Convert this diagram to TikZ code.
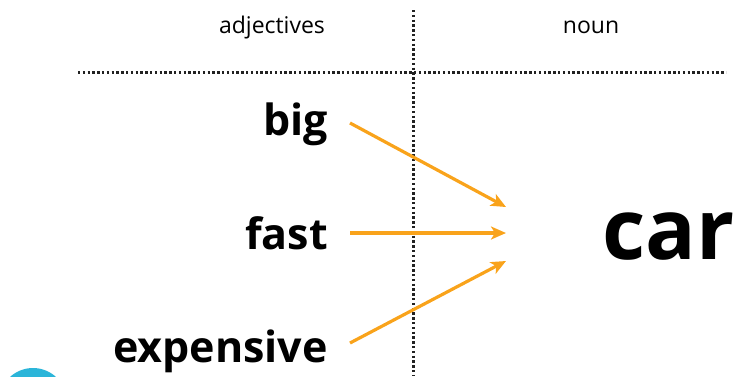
\documentclass[tikz,border=0pt]{standalone}
\usepackage{fontspec}
\setmainfont{Open Sans}
\usetikzlibrary{arrows.meta}
\definecolor{arrorange}{HTML}{F9A31B}
\definecolor{dotgray}{HTML}{222222}
\definecolor{cyanball}{HTML}{2BB5D9}
\begin{document}
\begin{tikzpicture}[x=1pt,y=-1pt,
  header/.style={font=\fontsize{23}{26}\selectfont, text=black, inner sep=0pt, anchor=base},
  word/.style={font=\fontsize{43}{48}\selectfont\bfseries, text=black, inner sep=0pt, anchor=base east},
  bigword/.style={font=\fontsize{84}{90}\selectfont\bfseries, text=black, inner sep=0pt, anchor=base west},
  divider/.style={dotgray, line width=3pt, dash pattern=on 2.4pt off 2.4pt},
  link/.style={arrorange, line width=3.2pt, -{Stealth[length=15pt,width=13pt,inset=4pt]}}]
\useasboundingbox (0,0) rectangle (739,376);
\fill[cyanball] (33,402) circle (34);
\coordinate (vtop) at (413,10);
\coordinate (vbot) at (413,376);
\coordinate (hl) at (78,72);
\coordinate (hr) at (726,72);
\draw[divider] (vtop) -- (vbot);
\draw[divider] (hl) -- (hr);
\node[header] (adj) at (272,33) {adjectives};
\node[header] (noun) at (591,33) {noun};
\node[word] (big) at (328,135) {big};
\node[word] (fast) at (328,249) {fast};
\node[word] (exp) at (328,362) {expensive};
\node[bigword] (car) at (602,259) {car};
\coordinate (t1) at (506,207);
\coordinate (t2) at (506,233);
\coordinate (t3) at (506,261);
\coordinate (s1) at (350,123);
\coordinate (s2) at (350,233);
\coordinate (s3) at (350,343);
\draw[link] (s1) -- (t1);
\draw[link] (s2) -- (t2);
\draw[link] (s3) -- (t3);
\end{tikzpicture}
\end{document}
